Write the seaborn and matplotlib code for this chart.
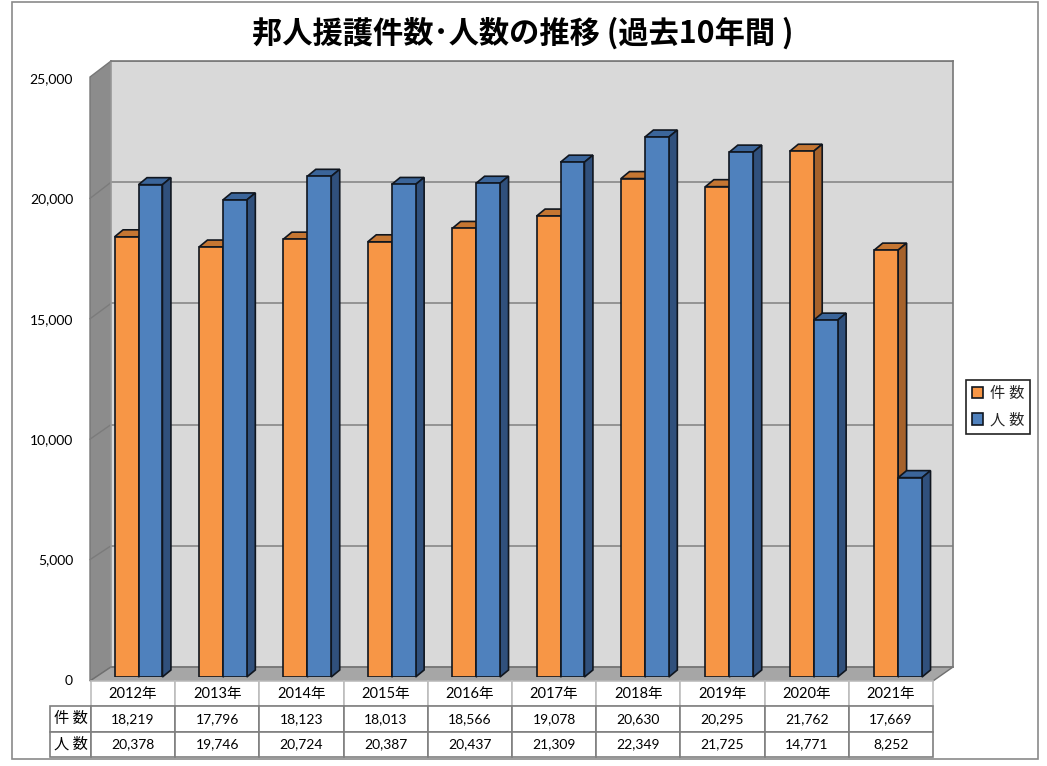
import matplotlib
matplotlib.use("Agg")
import matplotlib.pyplot as plt
import pandas as pd
import seaborn as sns
from matplotlib.patches import Polygon, Rectangle

W, H = 1047, 766

years = ["2012年", "2013年", "2014年", "2015年", "2016年", "2017年", "2018年", "2019年", "2020年", "2021年"]
cases = [18219, 17796, 18123, 18013, 18566, 19078, 20630, 20295, 21762, 17669]
people = [20378, 19746, 20724, 20387, 20437, 21309, 22349, 21725, 14771, 8252]
series_names = ["件 数", "人 数"]
y_ticks = [0, 5000, 10000, 15000, 20000, 25000]
title = "邦人援護件数･人数の推移 (過去10年間 )"

ORANGE = ["#F79646", "#C57632", "#A6622B"]
BLUE = ["#4F81BD", "#3B659A", "#30507C"]
EDGE = "#10161f"
GRID = "#8e8e8e"

sns.set_theme(style="white")
plt.rcParams["font.family"] = ["Lato", "Noto Sans CJK JP", "DejaVu Sans"]


def box(x0, y0, x1, y1):
    # pixel box (from top left) to figure fractions
    return [x0 / W, 1 - y1 / H, (x1 - x0) / W, (y1 - y0) / H]


fig = plt.figure(figsize=(W / 100, H / 100), dpi=100, facecolor="white")

# outer frame, side wall and floor live on a pixel overlay
deco = fig.add_axes([0, 0, 1, 1], zorder=0)
deco.set_xlim(0, W)
deco.set_ylim(H, 0)
deco.axis("off")
deco.add_patch(Rectangle((11.5, 1.5), 1026, 757.5, fc="white", ec="#8a8a8a", lw=1.2))
deco.add_patch(Polygon([(90, 77), (111, 61), (111, 667), (90, 681)], fc="#8C8C8C", ec="#777777", lw=1))
deco.add_patch(Polygon([(90, 681), (933, 681), (953, 667), (111, 667)], fc="#A6A6A6", ec="#6f6f6f", lw=1))
for t in y_ticks[1:-1]:
    yf = 680 - t * 602 / 25000
    yb = 667 - t * 606 / 25000
    deco.plot([90, 111], [yf, yb], color="#7b7b7b", lw=1)

# back wall with the grid
back = fig.add_axes(box(111, 61, 953, 667), zorder=1)
back.set_facecolor("#D9D9D9")
back.set_xlim(0, 1)
back.set_ylim(0, 25000)
back.set_xticks([])
back.set_yticks(y_ticks)
back.tick_params(left=False, labelleft=False)
back.grid(axis="y", color=GRID, lw=1.3)
for s in back.spines.values():
    s.set_color("#777777")
    s.set_linewidth(1.2)
back.spines["left"].set_color("#999999")

# front plane only carries the tick labels
front = fig.add_axes(box(90, 78, 933, 680), zorder=2)
front.patch.set_alpha(0)
front.set_xticks([])
front.set_ylim(0, 25000)
front.set_yticks(y_ticks)
front.set_yticklabels([f"{v:,}" for v in y_ticks], fontsize=10, color="black")
front.tick_params(axis="y", length=0, pad=12.2)
sns.despine(ax=front, left=True, bottom=True)

# bars
df = pd.DataFrame({
    "year": years * 2,
    "value": cases + people,
    "series": [series_names[0]] * 10 + [series_names[1]] * 10,
})
ax = fig.add_axes(box(96.3, 73, 940.3, 677), zorder=3)
ax.patch.set_alpha(0)
sns.barplot(data=df, x="year", y="value", hue="series", hue_order=series_names,
            palette=[ORANGE[0], BLUE[0]], width=0.567, gap=0, saturation=1,
            edgecolor=EDGE, linewidth=1.2, ax=ax)
ax.set_xlim(-0.5, 9.5)
ax.set_ylim(0, 25000)
ax.set_xlabel("")
ax.set_ylabel("")
ax.set_xticks([])
ax.set_yticks([])
sns.despine(ax=ax, left=True, bottom=True)

# extrude each bar backwards
dx = 8.5 / 84.4
dy = 7 * 25000 / 604
for i, (cont, cols) in enumerate(zip(ax.containers, [ORANGE, BLUE])):
    z = 3 + 2 * i
    for bar in cont:
        bar.set_zorder(z + 1)
        x0, x1, h = bar.get_x(), bar.get_x() + bar.get_width(), bar.get_height()
        ax.add_patch(Polygon([(x0, h), (x0 + dx, h + dy), (x1 + dx, h + dy), (x1, h)],
                             fc=cols[1], ec=EDGE, lw=1.2, zorder=z, clip_on=False))
        ax.add_patch(Polygon([(x1, h), (x1 + dx, h + dy), (x1 + dx, dy), (x1, 0)],
                             fc=cols[2], ec=EDGE, lw=1.2, zorder=z, clip_on=False))

sns.move_legend(ax, "center", bbox_to_anchor=(998 / W, 1 - 407 / H),
                bbox_transform=fig.transFigure, title=None, frameon=True,
                fontsize=11, handlelength=0.75, handleheight=0.75, handletextpad=0.4,
                labelspacing=0.8, borderpad=0.4, borderaxespad=0, fancybox=False,
                edgecolor="#222222", framealpha=1)
leg = ax.get_legend()
leg.get_frame().set_linewidth(1.2)
leg.set_zorder(20)

# data table under the chart
tab = fig.add_axes(box(50, 681, 933, 757), zorder=4)
tab.axis("off")
rows = [[""] + years,
        [series_names[0]] + [f"{v:,}" for v in cases],
        [series_names[1]] + [f"{v:,}" for v in people]]
table = tab.table(cellText=rows, cellLoc="center", bbox=[0, 0, 1, 1],
                  colWidths=[41] + [84.2] * 10)
table.auto_set_font_size(False)
for (r, c), cell in table.get_celld().items():
    cell.set_facecolor("white")
    cell.set_edgecolor("#BDBDBD" if r == 0 else "#7f7f7f")
    cell.set_linewidth(1.2)
    cell.get_text().set_fontsize(10.5 if r == 0 else 10)
    cell.get_text().set_color("black")
    if c == 0:
        cell.set_text_props(family=["Noto Sans CJK JP", "DejaVu Sans"], fontsize=11)
    if r == 0 and c == 0:
        cell.set_visible(False)

fig.text(523 / W, 1 - 33 / H, title, ha="center", va="center", fontsize=21.8,
         fontweight="bold", color="black", family=["Noto Sans CJK JP", "DejaVu Sans"])

fig.savefig("out.png", dpi=100)
